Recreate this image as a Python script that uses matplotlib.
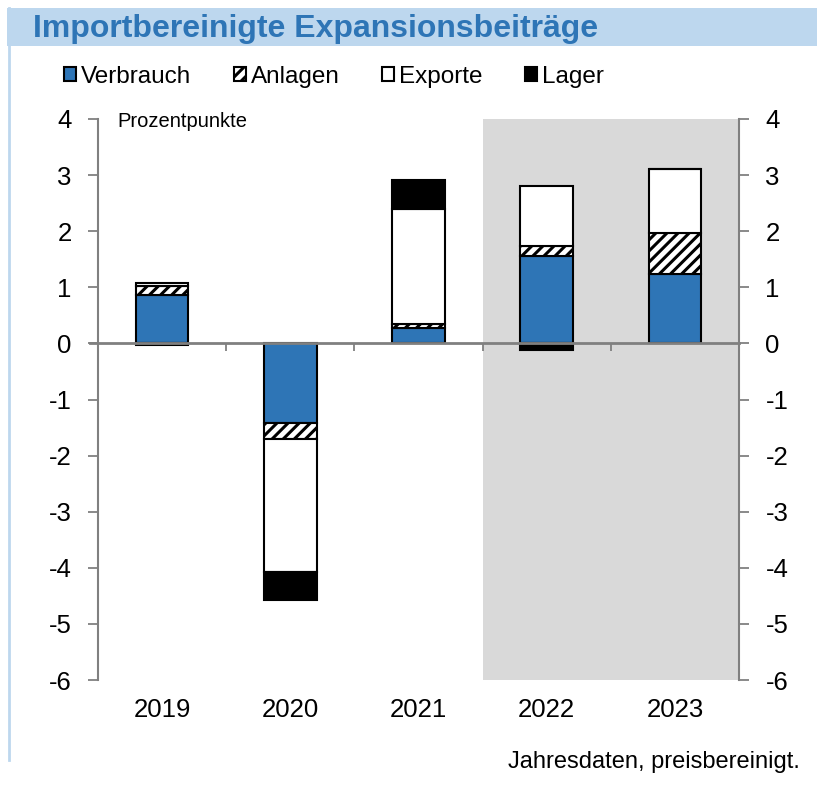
import matplotlib.pyplot as plt
import numpy as np
from matplotlib.patches import Rectangle

plt.rcParams['font.family'] = ['Liberation Sans', 'DejaVu Sans']
plt.rcParams['hatch.linewidth'] = 2.2
plt.rcParams['axes.unicode_minus'] = False

# Daten (Prozentpunkte)
jahre = ["2019", "2020", "2021", "2022", "2023"]
verbrauch = [0.87, -1.42, 0.27, 1.55, 1.23]
anlagen = [0.15, -0.28, 0.08, 0.18, 0.74]
exporte = [0.06, -2.38, 2.04, 1.08, 1.13]
lager = [-0.03, -0.49, 0.52, -0.11, 0.0]

blau = "#2E75B6"
grau = "#808080"

fig = plt.figure(figsize=(8.17, 7.87), dpi=100)

# Titelband
fig.patches.append(Rectangle((0.009, 1 - 46 / 787), 0.991, 38 / 787, transform=fig.transFigure,
                             facecolor="#BDD7EE", edgecolor="none", zorder=0))
fig.lines.append(plt.Line2D([0.011, 0.011], [1 - 760 / 787, 1 - 8 / 787], transform=fig.transFigure,
                            color="#BDD7EE", lw=2))
fig.text(33 / 817, 1 - 29 / 787, "Importbereinigte Expansionsbeiträge", fontsize=23,
         fontweight="bold", color=blau, va="center", ha="left")

ax = fig.add_axes([98 / 817, 1 - 680 / 787, (739 - 98) / 817, (680 - 119) / 787])

x = np.arange(len(jahre))
breite = 0.41

# Stapel: positive und negative Werte getrennt aufsummieren
pos_base = np.zeros(len(jahre))
neg_base = np.zeros(len(jahre))
serien = [
    ("Verbrauch", verbrauch, dict(facecolor=blau, hatch=None)),
    ("Anlagen", anlagen, dict(facecolor="white", hatch="///")),
    ("Exporte", exporte, dict(facecolor="white", hatch=None)),
    ("Lager", lager, dict(facecolor="black", hatch=None)),
]
for name, werte, stil in serien:
    werte = np.array(werte)
    base = np.where(werte >= 0, pos_base, neg_base)
    ax.bar(x, werte, breite, bottom=base, edgecolor="black", linewidth=1.5,
           label=name, zorder=3, **stil)
    pos_base += np.where(werte >= 0, werte, 0)
    neg_base += np.where(werte < 0, werte, 0)

# Prognosezeitraum grau hinterlegt
ax.axvspan(2.5, 4.5, ymin=0, ymax=1, color="#D9D9D9", zorder=0, lw=0)

ax.set_xlim(-0.5, 4.5)
ax.set_ylim(-6, 4)
ax.set_yticks(range(-6, 5))

for s in ["top", "bottom"]:
    ax.spines[s].set_visible(False)
for s in ["left", "right"]:
    ax.spines[s].set_color(grau)
    ax.spines[s].set_linewidth(1.5)

ax.tick_params(axis="y", which="both", direction="out", length=7, width=1.3, color=grau,
               labelsize=18.5, pad=12, left=True, right=True, labelleft=True, labelright=True)
ax.set_xticks(x)
ax.set_xticklabels(jahre)
ax.tick_params(axis="x", length=0, labelsize=18.5, pad=13)

# Nulllinie mit Trennstrichen nach unten
ax.axhline(0, color=grau, lw=2, zorder=4, xmin=-0.012, clip_on=False)
ax.vlines(x[:-1] + 0.5, -0.13, 0, color=grau, lw=1.3, zorder=4)

ax.text(0.03, 0.995, "Prozentpunkte", transform=ax.transAxes, fontsize=14.5, va="center", ha="left")

fig.legend(loc="upper left", bbox_to_anchor=(54 / 817, 1 - 56 / 787), ncol=4, frameon=False,
           fontsize=17.5, handlelength=0.5, handleheight=0.5, handletextpad=0.2,
           columnspacing=1.75, borderaxespad=0)

fig.text(800 / 817, 1 - 762 / 787, "Jahresdaten, preisbereinigt.", fontsize=17, ha="right", va="center")

fig.savefig("out.png", dpi=100)
